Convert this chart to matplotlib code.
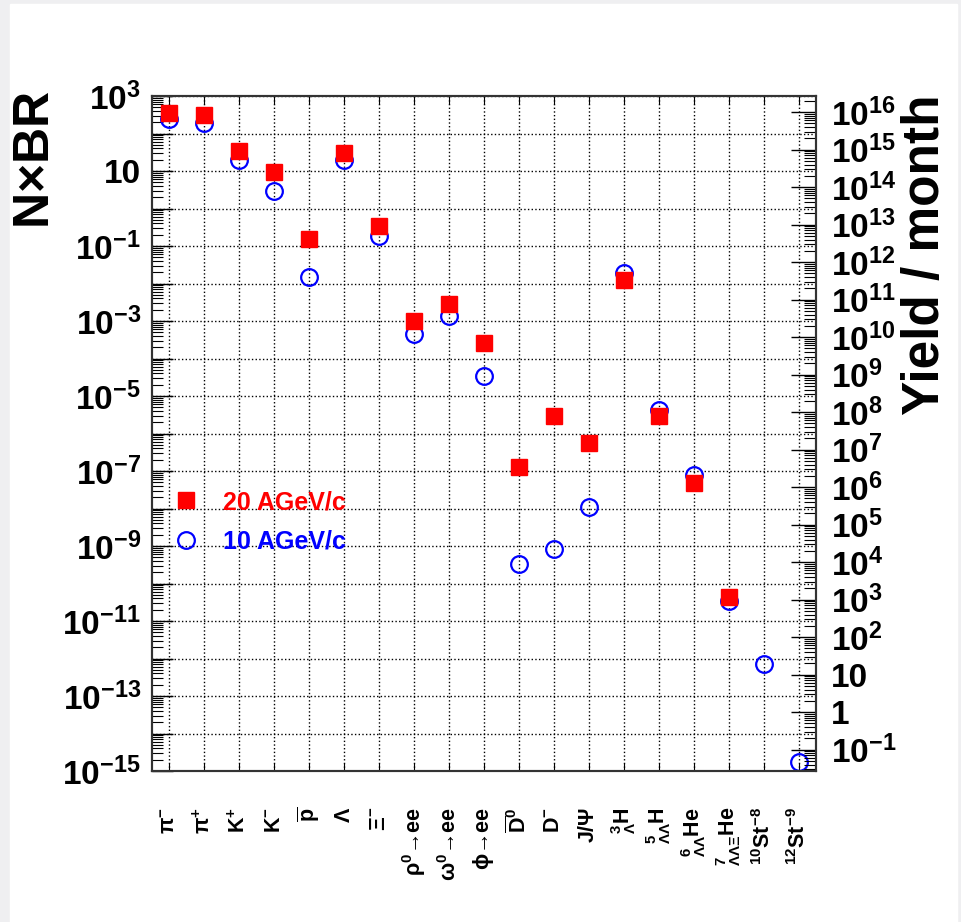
import numpy as np
import matplotlib
matplotlib.use("Agg")
import matplotlib.pyplot as plt
from matplotlib.ticker import LogLocator, FuncFormatter, NullFormatter, FixedLocator
from matplotlib.patches import Rectangle

plt.rcParams['font.family'] = ['Liberation Sans', 'DejaVu Sans']
plt.rcParams['font.weight'] = 'bold'
plt.rcParams['mathtext.fontset'] = 'custom'
plt.rcParams['mathtext.rm'] = 'Liberation Sans:bold'
plt.rcParams['mathtext.bf'] = 'Liberation Sans:bold'
plt.rcParams['mathtext.it'] = 'Liberation Sans'
plt.rcParams['mathtext.sf'] = 'Liberation Sans'

# particle labels (x axis)
particles = [
    r"$\mathsf{\pi}^{-}$", r"$\mathsf{\pi}^{+}$", r"K$^{+}$", r"K$^{-}$",
    r"$\overline{\mathrm{p}}$", r"$\mathsf{\Lambda}$", r"$\mathsf{\Xi}^{-}$",
    "$\\mathsf{\\rho}^{0}$\u2192ee", "$\\mathsf{\\omega}^{0}$\u2192ee",
    "$\\mathsf{\\phi}$\u2192ee", r"$\overline{\mathrm{D}}^{0}$", r"D$^{-}$",
    r"J/$\mathsf{\Psi}$", r"${}^{3}_{\mathsf{\Lambda}}$H",
    r"${}^{5}_{\mathsf{\Lambda\Lambda}}$H", r"${}^{6}_{\mathsf{\Lambda\Lambda}}$He",
    r"${}^{7}_{\mathsf{\Lambda\Lambda\Xi}}$He", r"${}^{10}$St$^{-8}$",
    r"${}^{12}$St$^{-9}$",
]

# N x BR, 20 AGeV/c (no values for the strangelets)
nbr_20 = [3.5e2, 3.2e2, 3.5e1, 9.5, 1.5e-1, 3.0e1, 3.5e-1,
          1.0e-3, 2.9e-3, 2.6e-4, 1.3e-7, 3.0e-6, 5.5e-7,
          1.25e-2, 3.0e-6, 4.8e-8, 4.3e-11, np.nan, np.nan]

# N x BR, 10 AGeV/c
nbr_10 = [2.4e2, 1.9e2, 2.0e1, 2.9, 1.5e-2, 2.0e1, 1.8e-1,
          4.4e-4, 1.4e-3, 3.5e-5, 3.4e-10, 8.3e-10, 1.1e-8,
          1.9e-2, 4.2e-6, 7.6e-8, 3.4e-11, 7.2e-13, 1.7e-15]

yield_factor = 10 ** 13.43   # N x BR -> yield per month

x = np.arange(len(particles)) + 0.5

fig = plt.figure(figsize=(9.61, 9.22), dpi=100, facecolor='#efeff1')
fig.patches.append(Rectangle((10 / 961, 0), 947 / 961, 918 / 922,
                             transform=fig.transFigure, color='white', zorder=-5))
ax = fig.add_axes([152 / 961, 151 / 922, 664 / 961, 675 / 922])

ax.plot(x, nbr_10, 'o', ms=12, mfc='none', mec='blue', mew=1.6,
        label='10 AGeV/c', zorder=3)
ax.plot(x, nbr_20, 's', ms=11.5, color='red', mec='red',
        label='20 AGeV/c', zorder=4)

ax.set_yscale('log')
ax.set_ylim(1e-15, 1e3)
ax.set_xlim(0, len(particles))


def exp_label(e):
    if e == 0:
        return '1'
    if e == 1:
        return '10'
    return r'$10^{%d}$' % e


def left_fmt(v, pos):
    e = int(round(np.log10(v)))
    if e % 2 == 0:
        return ''
    return exp_label(e)


def right_fmt(v, pos):
    return exp_label(int(round(np.log10(v))))


ax.yaxis.set_major_locator(LogLocator(base=10, numticks=40))
ax.yaxis.set_minor_locator(LogLocator(base=10, subs=np.arange(2, 10), numticks=40))
ax.yaxis.set_major_formatter(FuncFormatter(left_fmt))
ax.yaxis.set_minor_formatter(NullFormatter())

ax.xaxis.set_major_locator(FixedLocator(x))
ax.set_xticklabels(particles, rotation=90, ha='center', va='top')

ax.tick_params(axis='y', which='major', direction='in', length=15, width=1,
               labelsize=24, pad=8, right=False)
ax.tick_params(axis='y', which='minor', direction='in', length=8, width=0.8,
               right=False)
ax.tick_params(axis='x', which='major', direction='in', length=6, width=0.8,
               top=True, labelsize=15.5, pad=26)
ax.tick_params(axis='x', which='minor', bottom=False, top=False)

ax.grid(True, which='major', ls=':', color='black', lw=1)

ax2 = ax.twinx()
ax2.set_yscale('log')
ax2.set_ylim(1e-15 * yield_factor, 1e3 * yield_factor)
ax2.yaxis.set_major_locator(LogLocator(base=10, numticks=40))
ax2.yaxis.set_minor_locator(LogLocator(base=10, subs=np.arange(2, 10), numticks=40))
ax2.yaxis.set_major_formatter(FuncFormatter(right_fmt))
ax2.yaxis.set_minor_formatter(NullFormatter())
ax2.tick_params(axis='y', which='major', direction='in', length=18, width=1,
                labelsize=24, pad=11)
ax2.tick_params(axis='y', which='minor', direction='in', length=9, width=0.8)

for a in (ax, ax2):
    for s in a.spines.values():
        s.set_linewidth(1.5)
        s.set_color('#333333')

handles, labels = ax.get_legend_handles_labels()
leg = ax.legend(handles[::-1], labels[::-1], loc='upper left',
                bbox_to_anchor=(0.032, 0.416), frameon=False, fontsize=18,
                handlelength=1.0, handletextpad=1.0, borderpad=0,
                borderaxespad=0, labelspacing=0.62)
leg.get_texts()[0].set_color('red')
leg.get_texts()[1].set_color('blue')

fig.text(36 / 961, 1 - 160 / 922, r'N$\mathsf{\times}$BR', rotation=90, fontsize=36,
         ha='center', va='center')
fig.text(925 / 961, 1 - 255 / 922, 'Yield / month', rotation=90, fontsize=37,
         ha='center', va='center')

fig.savefig('out.png', dpi=100, facecolor=fig.get_facecolor())
